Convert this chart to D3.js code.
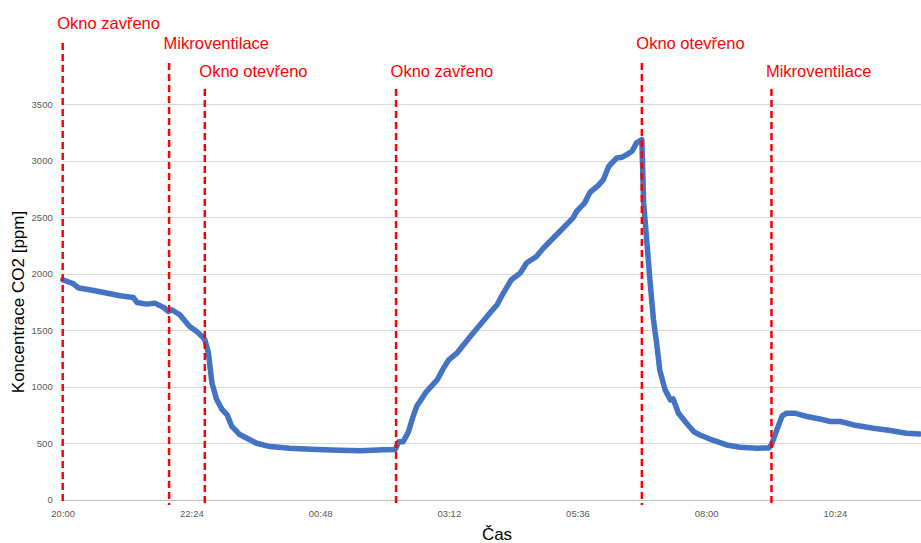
<!DOCTYPE html>
<html>
<head>
<meta charset="utf-8">
<script src="https://cdn.jsdelivr.net/npm/d3@7"></script>
<style>
  html, body { margin: 0; padding: 0; background: #fff; }
  svg { display: block; }
</style>
</head>
<body>
<svg id="chart" width="921" height="543"></svg>
<script>
// CO2 readings overnight (time of day, ppm)
const times = [
  "20:00","20:12","20:18","20:30","20:49","21:04","21:19","21:23","21:34","21:43",
  "21:53","21:58","22:02","22:11","22:22","22:30","22:36","22:39","22:43","22:47",
  "22:52","22:58","23:04","23:09","23:18","23:37","23:52","00:14","00:44","01:10",
  "01:33","01:59","02:12","02:16","02:21","02:27","02:32","02:36","02:47","02:59",
  "03:06","03:12","03:21","03:36","03:47","03:58","04:06","04:13","04:22","04:32",
  "04:39","04:50","04:58","05:09","05:20","05:31","05:35","05:44","05:50","05:59",
  "06:05","06:11","06:20","06:26","06:31","06:37","06:42","06:48","06:50","06:54",
  "06:57","07:01","07:05","07:08","07:14","07:20","07:23","07:29","07:38","07:46",
  "07:53","08:04","08:23","08:38","08:57","09:10","09:13","09:19","09:25","09:30",
  "09:39","09:53","10:07","10:19","10:30","10:45","11:07","11:26","11:44","11:59"
];
const co2 = [
  1945,1909,1871,1856,1827,1803,1788,1744,1729,1738,
  1700,1664,1679,1635,1531,1487,1443,1415,1300,1030,
  890,800,749,650,575,498,468,454,442,436,
  432,440,442,512,512,601,734,822,955,1059,
  1162,1236,1295,1443,1546,1650,1723,1827,1945,2004,
  2093,2151,2226,2314,2403,2492,2550,2625,2718,2778,
  2831,2949,3023,3029,3052,3082,3156,3185,2625,2240,
  1945,1590,1354,1147,970,882,890,764,675,601,
  571,535,483,462,454,456,483,616,740,764,
  764,734,713,690,690,660,631,610,587,580
];

// Window events
const eventTimes  = ["20:00","21:59","22:39","02:13","06:48","09:13"];
const eventLabels = ["Okno zavřeno","Mikroventilace","Okno otevřeno","Okno zavřeno","Okno otevřeno","Mikroventilace"];
const eventRows   = [0,1,2,2,1,2];

// Axis ticks
const xTickLabels = ["20:00","22:24","00:48","03:12","05:36","08:00","10:24"];
const yTicks = [0,500,1000,1500,2000,2500,3000,3500];

// minutes elapsed since 20:00 (wraps past midnight)
const toMin = s => { const [h,m] = s.split(":").map(Number); return ((h*60+m) - 1200 + 1440) % 1440; };

const svg = d3.select("#chart");
const W = 921, H = 543;
const x = d3.scaleLinear().domain([0, 960]).range([62.7, 920.7]);
const y = d3.scaleLinear().domain([0, 3500]).range([499.5, 104]);

const fontTick = "'Liberation Sans', Arial, sans-serif";

// horizontal gridlines
svg.append("g").selectAll("line").data(yTicks.filter(d => d > 0)).join("line")
  .attr("x1", x(0)).attr("x2", W)
  .attr("y1", d => Math.round(y(d)) + 0.5).attr("y2", d => Math.round(y(d)) + 0.5)
  .attr("stroke", "#d9d9d9").attr("stroke-width", 1);

// baseline
svg.append("line")
  .attr("x1", x(0)).attr("x2", W)
  .attr("y1", Math.round(y(0)) + 0.5).attr("y2", Math.round(y(0)) + 0.5)
  .attr("stroke", "#bfbfbf").attr("stroke-width", 1);

// y axis labels
const yAxis = d3.axisLeft(y).tickValues(yTicks).tickFormat(d3.format("d")).tickSize(0).tickPadding(10);
const gy = svg.append("g").attr("transform", `translate(${x(0)},0)`).call(yAxis);
gy.select(".domain").remove();
gy.selectAll("text").attr("fill", "#595959").style("font-family", fontTick).style("font-size", "9.5px");

// x axis labels
const xAxis = d3.axisBottom(x).tickValues(xTickLabels.map(toMin))
  .tickFormat((d, i) => xTickLabels[i]).tickSize(0).tickPadding(11);
const gx = svg.append("g").attr("transform", `translate(0,${y(0)})`).call(xAxis);
gx.select(".domain").remove();
gx.selectAll("text").attr("fill", "#595959").style("font-family", fontTick).style("font-size", "9.5px");

// axis titles
svg.append("text")
  .attr("transform", `translate(24,302) rotate(-90)`)
  .attr("text-anchor", "middle")
  .style("font-family", "'Liberation Sans', Arial, sans-serif")
  .style("font-size", "17px").attr("fill", "#000")
  .text("Koncentrace CO2 [ppm]");
svg.append("text")
  .attr("x", 497).attr("y", 540)
  .attr("text-anchor", "middle")
  .style("font-family", "'Liberation Sans', Arial, sans-serif")
  .style("font-size", "17px").attr("fill", "#000")
  .text("Čas");

// CO2 line
const pts = times.map((t, i) => ({ t: toMin(t), v: co2[i] }));
const line = d3.line().x(d => x(d.t)).y(d => y(d.v));
svg.append("path").datum(pts)
  .attr("d", line)
  .attr("fill", "none")
  .attr("stroke", "#4472C4")
  .attr("stroke-width", 5.5)
  .attr("stroke-linejoin", "round")
  .attr("stroke-linecap", "round");

// event markers
const rowBase = [29, 49, 77];
const rowDashTop = [43, 63, 89];
const ev = eventTimes.map((t, i) => ({ t: toMin(t), label: eventLabels[i], row: eventRows[i] }));
const eg = svg.append("g");
eg.selectAll("line").data(ev).join("line")
  .attr("x1", d => x(d.t)).attr("x2", d => x(d.t))
  .attr("y1", d => rowDashTop[d.row]).attr("y2", 505)
  .attr("stroke", "#ff0000").attr("stroke-width", 2.5)
  .attr("stroke-dasharray", "7,4");
eg.selectAll("text").data(ev).join("text")
  .attr("x", d => x(d.t) - 5.5).attr("y", d => rowBase[d.row])
  .attr("fill", "#ff0000")
  .style("font-family", "'Liberation Sans', Arial, sans-serif")
  .style("font-size", "16.5px")
  .text(d => d.label);
</script>
</body>
</html>
